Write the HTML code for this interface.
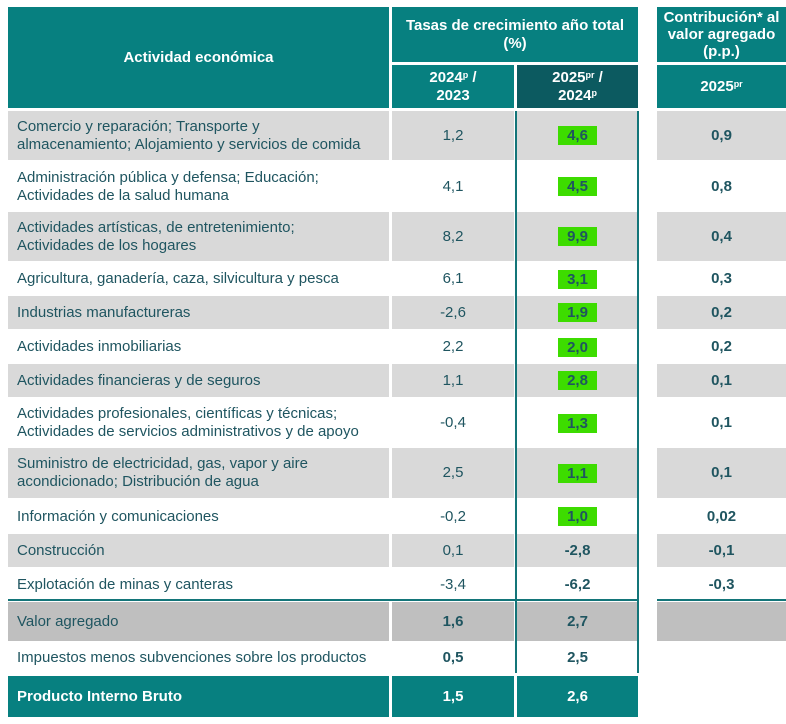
<!DOCTYPE html>
<html><head><meta charset="utf-8">
<style>
body{margin:0;width:786px;height:724px;background:#fff;position:relative;font-family:"Liberation Sans",sans-serif;overflow:hidden}
.b{position:absolute;box-sizing:border-box;display:flex;align-items:center;justify-content:center;text-align:center;color:#1f5560;font-size:15px;line-height:18px}
.h{background:#078080;color:#fff;font-weight:bold;font-size:15px}
.l{justify-content:flex-start;text-align:left;padding-left:9px}
.bd{font-weight:bold}
.vl{position:absolute;background:#137579;width:2px}
.hl{background:#3ddc00;padding:0 9px;line-height:19px;display:inline-block}
sup{font-size:9px;vertical-align:top;line-height:12px}
</style></head><body>
<div class="b h" style="left:8px;top:7px;width:381px;height:101px"><span>Actividad económica</span></div>
<div class="b h" style="left:392px;top:7px;width:246px;height:55px"><span>Tasas de crecimiento año total<br>(%)</span></div>
<div class="b h" style="left:392px;top:65px;width:122px;height:43px"><span>2024<sup>p</sup> /<br>2023</span></div>
<div class="b h" style="left:517px;top:65px;width:121px;height:43px;background:#0c5a60"><span>2025<sup>pr</sup> /<br>2024<sup>p</sup></span></div>
<div class="b h" style="left:657px;top:7px;width:129px;height:55px;line-height:17px"><span>Contribución* al<br>valor agregado<br>(p.p.)</span></div>
<div class="b h" style="left:657px;top:65px;width:129px;height:43px"><span>2025<sup>pr</sup></span></div>
<div id="rows"></div>
<script>
const labels=["Comercio y reparación; Transporte y<br>almacenamiento; Alojamiento y servicios de comida","Administración pública y defensa; Educación;<br>Actividades de la salud humana","Actividades artísticas, de entretenimiento;<br>Actividades de los hogares","Agricultura, ganadería, caza, silvicultura y pesca","Industrias manufactureras","Actividades inmobiliarias","Actividades financieras y de seguros","Actividades profesionales, científicas y técnicas;<br>Actividades de servicios administrativos y de apoyo","Suministro de electricidad, gas, vapor y aire<br>acondicionado; Distribución de agua","Información y comunicaciones","Construcción","Explotación de minas y canteras"];
const g2024=["1,2","4,1","8,2","6,1","-2,6","2,2","1,1","-0,4","2,5","-0,2","0,1","-3,4"];
const g2025=["4,6","4,5","9,9","3,1","1,9","2,0","2,8","1,3","1,1","1,0","-2,8","-6,2"];
const contrib=["0,9","0,8","0,4","0,3","0,2","0,2","0,1","0,1","0,1","0,02","-0,1","-0,3"];
const tops=[111,161,212,262,296,330,364,398,448,499,534,568,601];
const R=document.getElementById('rows');
function cell(x,y,w,h,html,cls,bg,name){const d=document.createElement('div');d.className='b '+cls;d.style.cssText=`left:${x}px;top:${y}px;width:${w}px;height:${h}px;background:${bg}`;d.innerHTML='<span>'+html+'</span>';


R.appendChild(d);}
for(let i=0;i<labels.length;i++){const y=tops[i],h=tops[i+1]-y-(i%2==0?1:0),bg=i%2==0?'#d9d9d9':'#fff';
cell(8,y,381,h,labels[i],'l',bg,'row-label');
cell(392,y,122,h,g2024[i],'',bg,'value-2024');
cell(517,y,121,h,i<10?'<span class="hl bd">'+g2025[i]+'</span>':g2025[i],'bd',bg,'value-2025');
cell(657,y,129,h,contrib[i],'bd',bg,'contribution');}
cell(8,602,381,39,'Valor agregado','l','#bfbfbf','valor-agregado-label');
cell(392,602,122,39,'1,6','bd','#bfbfbf','va-2024');
cell(517,602,121,39,'2,7','bd','#bfbfbf','va-2025');
cell(657,602,129,39,'','','#bfbfbf','va-contrib');
cell(8,641,381,34,'Impuestos menos subvenciones sobre los productos','l','#fff','impuestos-label');
cell(392,641,122,34,'0,5','bd','#fff','imp-2024');
cell(517,641,121,34,'2,5','bd','#fff','imp-2025');
cell(8,676,381,41,'Producto Interno Bruto','l h','#078080','pib-label');
cell(392,676,122,41,'1,5','h','#078080','pib-2024');
cell(517,676,121,41,'2,6','h','#078080','pib-2025');
</script>
<div class="vl" style="left:515px;top:111px;height:562px"></div>
<div class="vl" style="left:637px;top:111px;height:562px"></div>
<div class="vl" style="left:8px;top:599px;width:630px;height:2px"></div>
<div class="vl" style="left:657px;top:599px;width:129px;height:2px"></div>
</body></html>
